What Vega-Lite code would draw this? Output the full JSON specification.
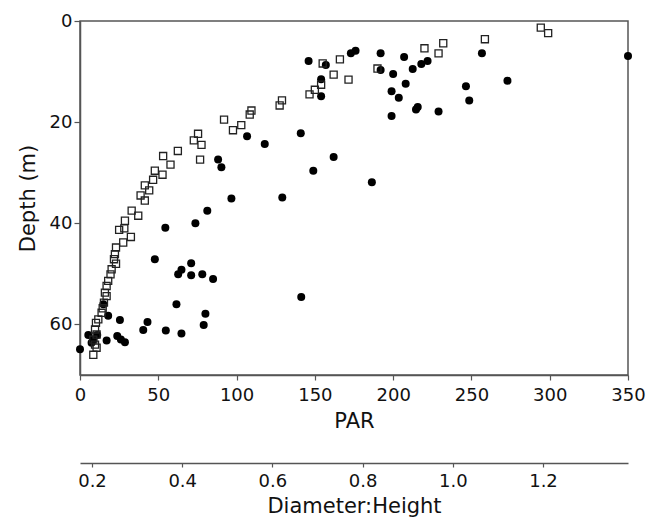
{
  "$schema": "https://vega.github.io/schema/vega-lite/v6.json",
  "width": 548,
  "height": 354,
  "autosize": {"type": "none"},
  "padding": {"left": 80, "top": 21, "right": 31, "bottom": 145},
  "background": "white",
  "config": {
    "view": {"stroke": "#555", "strokeWidth": 1.5},
    "font": "DejaVu Sans",
    "axis": {
      "labelFont": "DejaVu Sans",
      "titleFont": "DejaVu Sans",
      "labelFontSize": 18,
      "titleFontSize": 21,
      "titleFontWeight": "normal",
      "labelColor": "#111",
      "titleColor": "#111",
      "domainColor": "#555",
      "domainWidth": 1.5,
      "tickColor": "#555",
      "tickWidth": 1.2,
      "grid": false
    }
  },
  "datasets": {
    "points": [
      {"PAR": 146, "Depth": 7.9, "series": "filled"},
      {"PAR": 157, "Depth": 8.7, "series": "filled"},
      {"PAR": 154, "Depth": 11.5, "series": "filled"},
      {"PAR": 154, "Depth": 14.9, "series": "filled"},
      {"PAR": 173, "Depth": 6.4, "series": "filled"},
      {"PAR": 176, "Depth": 5.9, "series": "filled"},
      {"PAR": 192, "Depth": 6.4, "series": "filled"},
      {"PAR": 192, "Depth": 9.7, "series": "filled"},
      {"PAR": 200, "Depth": 10.5, "series": "filled"},
      {"PAR": 207, "Depth": 7.1, "series": "filled"},
      {"PAR": 212.5, "Depth": 9.5, "series": "filled"},
      {"PAR": 218, "Depth": 8.5, "series": "filled"},
      {"PAR": 222, "Depth": 7.9, "series": "filled"},
      {"PAR": 208, "Depth": 12.4, "series": "filled"},
      {"PAR": 199, "Depth": 13.9, "series": "filled"},
      {"PAR": 203.6, "Depth": 15.2, "series": "filled"},
      {"PAR": 215.7, "Depth": 17.0, "series": "filled"},
      {"PAR": 214.6, "Depth": 17.5, "series": "filled"},
      {"PAR": 229, "Depth": 17.9, "series": "filled"},
      {"PAR": 199, "Depth": 18.8, "series": "filled"},
      {"PAR": 246.5, "Depth": 12.9, "series": "filled"},
      {"PAR": 248.6, "Depth": 15.7, "series": "filled"},
      {"PAR": 256.7, "Depth": 6.4, "series": "filled"},
      {"PAR": 273, "Depth": 11.8, "series": "filled"},
      {"PAR": 350, "Depth": 6.9, "series": "filled"},
      {"PAR": 141, "Depth": 22.2, "series": "filled"},
      {"PAR": 106.7, "Depth": 22.8, "series": "filled"},
      {"PAR": 118, "Depth": 24.3, "series": "filled"},
      {"PAR": 88.2, "Depth": 27.4, "series": "filled"},
      {"PAR": 90.3, "Depth": 28.9, "series": "filled"},
      {"PAR": 162, "Depth": 26.9, "series": "filled"},
      {"PAR": 149, "Depth": 29.6, "series": "filled"},
      {"PAR": 186.4, "Depth": 31.9, "series": "filled"},
      {"PAR": 96.7, "Depth": 35.1, "series": "filled"},
      {"PAR": 129.2, "Depth": 34.9, "series": "filled"},
      {"PAR": 81.3, "Depth": 37.5, "series": "filled"},
      {"PAR": 73.7, "Depth": 40.0, "series": "filled"},
      {"PAR": 54.5, "Depth": 40.9, "series": "filled"},
      {"PAR": 47.8, "Depth": 47.1, "series": "filled"},
      {"PAR": 71, "Depth": 47.9, "series": "filled"},
      {"PAR": 64.8, "Depth": 49.2, "series": "filled"},
      {"PAR": 62.7, "Depth": 50.1, "series": "filled"},
      {"PAR": 71, "Depth": 50.3, "series": "filled"},
      {"PAR": 78.1, "Depth": 50.1, "series": "filled"},
      {"PAR": 85, "Depth": 51.0, "series": "filled"},
      {"PAR": 141.3, "Depth": 54.6, "series": "filled"},
      {"PAR": 14.9, "Depth": 56, "series": "filled"},
      {"PAR": 18, "Depth": 58.3, "series": "filled"},
      {"PAR": 25.5, "Depth": 59.1, "series": "filled"},
      {"PAR": 61.6, "Depth": 56, "series": "filled"},
      {"PAR": 80.1, "Depth": 57.9, "series": "filled"},
      {"PAR": 79, "Depth": 60.1, "series": "filled"},
      {"PAR": 43.1, "Depth": 59.5, "series": "filled"},
      {"PAR": 40.4, "Depth": 61.1, "series": "filled"},
      {"PAR": 54.8, "Depth": 61.2, "series": "filled"},
      {"PAR": 64.8, "Depth": 61.8, "series": "filled"},
      {"PAR": 5.3, "Depth": 62.1, "series": "filled"},
      {"PAR": 8.5, "Depth": 63, "series": "filled"},
      {"PAR": 7.4, "Depth": 63.6, "series": "filled"},
      {"PAR": 11, "Depth": 62.1, "series": "filled"},
      {"PAR": 17, "Depth": 63.2, "series": "filled"},
      {"PAR": 23.8, "Depth": 62.3, "series": "filled"},
      {"PAR": 26.1, "Depth": 63, "series": "filled"},
      {"PAR": 28.7, "Depth": 63.5, "series": "filled"},
      {"PAR": 0, "Depth": 64.9, "series": "filled"},
      {"PAR": 294.3, "Depth": 1.3, "series": "open"},
      {"PAR": 299, "Depth": 2.4, "series": "open"},
      {"PAR": 258.6, "Depth": 3.6, "series": "open"},
      {"PAR": 232, "Depth": 4.4, "series": "open"},
      {"PAR": 220, "Depth": 5.4, "series": "open"},
      {"PAR": 229, "Depth": 6.4, "series": "open"},
      {"PAR": 166, "Depth": 7.6, "series": "open"},
      {"PAR": 155, "Depth": 8.4, "series": "open"},
      {"PAR": 190, "Depth": 9.4, "series": "open"},
      {"PAR": 162, "Depth": 10.6, "series": "open"},
      {"PAR": 171.5, "Depth": 11.6, "series": "open"},
      {"PAR": 154, "Depth": 12.6, "series": "open"},
      {"PAR": 150, "Depth": 13.6, "series": "open"},
      {"PAR": 146.6, "Depth": 14.5, "series": "open"},
      {"PAR": 129, "Depth": 15.7, "series": "open"},
      {"PAR": 127.5, "Depth": 16.7, "series": "open"},
      {"PAR": 109.5, "Depth": 17.7, "series": "open"},
      {"PAR": 108.4, "Depth": 18.5, "series": "open"},
      {"PAR": 92, "Depth": 19.5, "series": "open"},
      {"PAR": 103, "Depth": 20.6, "series": "open"},
      {"PAR": 97.7, "Depth": 21.6, "series": "open"},
      {"PAR": 75.4, "Depth": 22.3, "series": "open"},
      {"PAR": 72.7, "Depth": 23.6, "series": "open"},
      {"PAR": 77.6, "Depth": 24.5, "series": "open"},
      {"PAR": 62.5, "Depth": 25.7, "series": "open"},
      {"PAR": 76.7, "Depth": 27.4, "series": "open"},
      {"PAR": 53.1, "Depth": 26.7, "series": "open"},
      {"PAR": 57.8, "Depth": 28.4, "series": "open"},
      {"PAR": 47.8, "Depth": 29.6, "series": "open"},
      {"PAR": 52.7, "Depth": 30.4, "series": "open"},
      {"PAR": 46.7, "Depth": 31.4, "series": "open"},
      {"PAR": 41.4, "Depth": 32.5, "series": "open"},
      {"PAR": 44.2, "Depth": 33.5, "series": "open"},
      {"PAR": 38.7, "Depth": 34.5, "series": "open"},
      {"PAR": 41.4, "Depth": 35.5, "series": "open"},
      {"PAR": 33, "Depth": 37.5, "series": "open"},
      {"PAR": 37.2, "Depth": 38.5, "series": "open"},
      {"PAR": 28.7, "Depth": 39.5, "series": "open"},
      {"PAR": 28.3, "Depth": 41, "series": "open"},
      {"PAR": 25, "Depth": 41.3, "series": "open"},
      {"PAR": 32.5, "Depth": 42.7, "series": "open"},
      {"PAR": 27.6, "Depth": 43.8, "series": "open"},
      {"PAR": 23, "Depth": 44.8, "series": "open"},
      {"PAR": 22.3, "Depth": 46.1, "series": "open"},
      {"PAR": 21.7, "Depth": 47.1, "series": "open"},
      {"PAR": 23, "Depth": 48, "series": "open"},
      {"PAR": 20.2, "Depth": 49.1, "series": "open"},
      {"PAR": 19.5, "Depth": 50.1, "series": "open"},
      {"PAR": 18, "Depth": 51.4, "series": "open"},
      {"PAR": 17, "Depth": 52.4, "series": "open"},
      {"PAR": 15.9, "Depth": 53.7, "series": "open"},
      {"PAR": 17, "Depth": 54.4, "series": "open"},
      {"PAR": 15.3, "Depth": 55.7, "series": "open"},
      {"PAR": 14.5, "Depth": 56.8, "series": "open"},
      {"PAR": 13.8, "Depth": 57.7, "series": "open"},
      {"PAR": 11.7, "Depth": 59, "series": "open"},
      {"PAR": 10.2, "Depth": 59.7, "series": "open"},
      {"PAR": 9.6, "Depth": 61, "series": "open"},
      {"PAR": 10.6, "Depth": 62, "series": "open"},
      {"PAR": 8.5, "Depth": 63, "series": "open"},
      {"PAR": 9.6, "Depth": 64, "series": "open"},
      {"PAR": 10.6, "Depth": 64.6, "series": "open"},
      {"PAR": 8.5, "Depth": 66, "series": "open"}
    ],
    "ratio": [
      {"DiameterHeight": 0.2},
      {"DiameterHeight": 1.2}
    ]
  },
  "layer": [
    {
      "data": {"name": "points"},
      "encoding": {
        "x": {
          "field": "PAR",
          "type": "quantitative",
          "scale": {"domain": [0, 350], "nice": false, "zero": false},
          "axis": {
            "title": "PAR",
            "values": [0, 50, 100, 150, 200, 250, 300, 350],
            "tickSize": 5,
            "labelPadding": 6,
            "titlePadding": 6,
            "labelFlush": false
          }
        },
        "y": {
          "field": "Depth",
          "type": "quantitative",
          "scale": {"domain": [0, 70], "reverse": true, "nice": false, "zero": false},
          "axis": {
            "title": "Depth (m)",
            "values": [0, 20, 40, 60],
            "tickSize": 6,
            "labelPadding": 2,
            "titlePadding": 11,
            "labelFlush": false
          }
        }
      },
      "layer": [
        {
          "transform": [{"filter": "datum.series === 'filled'"}],
          "mark": {"type": "point", "shape": "circle", "filled": true, "color": "#000", "size": 64, "opacity": 1}
        },
        {
          "transform": [{"filter": "datum.series === 'open'"}],
          "mark": {"type": "point", "shape": "square", "filled": false, "color": "#222", "size": 50, "strokeWidth": 1.3, "opacity": 1}
        }
      ]
    },
    {
      "data": {"name": "ratio"},
      "mark": {"type": "point", "opacity": 0},
      "encoding": {
        "x": {
          "field": "DiameterHeight",
          "type": "quantitative",
          "scale": {"domain": [0.1734, 1.3885], "nice": false, "zero": false},
          "axis": {
            "title": "Diameter:Height",
            "orient": "bottom",
            "offset": 88,
            "values": [0.2, 0.4, 0.6, 0.8, 1.0, 1.2],
            "format": ".1f",
            "tickSize": 4,
            "labelPadding": 5,
            "titlePadding": 5,
            "labelFlush": false
          }
        }
      }
    }
  ],
  "resolve": {"scale": {"x": "independent"}, "axis": {"x": "independent"}}
}
